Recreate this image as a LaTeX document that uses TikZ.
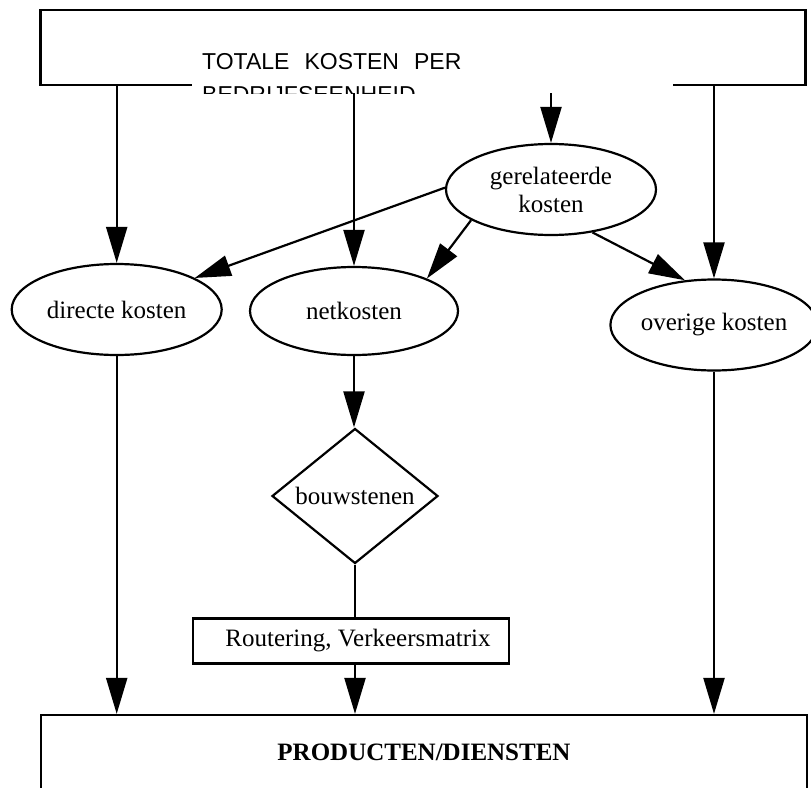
\documentclass[tikz,border=0pt]{standalone}
\usepackage{fontspec}
\setmainfont{Liberation Serif}
\newfontfamily\headfont{Liberation Sans}
\usetikzlibrary{shapes, positioning, arrows.meta}

\begin{document}
\begin{tikzpicture}[x = 1pt, y = -1pt,
  cost/.style = {draw, ellipse, align = center, line width = 2.2pt,
    minimum width = 210pt, minimum height = 91pt, inner sep = 0pt},
  panel/.style = {draw, rectangle, line width = 2.2pt, inner sep = 0pt},
  edge/.style = {-{Triangle[length = 36pt, width = 21pt]}, line width = 2.2pt},
  font = \fontsize{25}{28}\selectfont]

  \useasboundingbox (0,0) rectangle (811,787);
  \clip (0,0) rectangle (811,787);

  \node[panel, minimum width = 765pt, minimum height = 75pt] (top) at (423,47.5) {};
  \node[fill = white, minimum width = 481pt, minimum height = 63pt] (toplabel) at (432.5,61.5) {};
  \begin{scope}
    \clip (toplabel.north west) rectangle (toplabel.south east);
    \node[anchor = north west, align = left, inner sep = 0pt,
      font = \headfont\fontsize{23}{33.4}\selectfont] (toptext) at (202,53.3)
      {TOTALE\hspace{15pt}KOSTEN\hspace{15pt}PER\\BEDRIJFSEENHEID};
  \end{scope}

  \node[cost] (rel) at (551,189.5) {gerelateerde\\kosten};
  \node[cost] (dir) at (116.7,309.5) {directe kosten};
  \node[cost, minimum width = 208pt, minimum height = 88pt] (net) at (354,311) {netkosten};
  \node[cost, minimum width = 207pt] (ovr) at (714,325) {overige kosten};

  \node[draw, diamond, line width = 2.2pt, inner sep = 0pt, shape aspect = 1.23,
    minimum width = 166pt, minimum height = 135pt] (bouw) at (355,496) {bouwstenen};
  \node[panel, minimum width = 316pt, minimum height = 45pt] (route) at (351,641)
    {\hspace{14pt}Routering, Verkeersmatrix};
  \node[panel, minimum width = 766pt, minimum height = 74pt,
    font = \fontsize{25}{28}\selectfont\bfseries] (prod) at (424,752) {PRODUCTEN/DIENSTEN};

  \draw[edge] (top.south -| dir.north) -- (dir.north);
  \draw[edge] (toplabel.south -| net.north) -- (net.north);
  \draw[edge] (toplabel.south -| rel.north) -- (rel.north);
  \draw[edge] (top.south -| ovr.north) -- (ovr.north);

  \draw[edge] (rel.179) -- (dir.22);
  \draw[edge] (rel.201) -- (net.24);
  \draw[edge] (rel.314) -- (ovr.123);

  \draw[edge] (net.south) -- (net.south |- bouw.north);
  \draw[line width = 2.2pt] (bouw.south) -- (bouw.south |- route.north);
  \draw[edge] (bouw.south |- route.south) -- (bouw.south |- prod.north);
  \draw[edge] (dir.south) -- (dir.south |- prod.north);
  \draw[edge] (ovr.south) -- (ovr.south |- prod.north);
\end{tikzpicture}
\end{document}
